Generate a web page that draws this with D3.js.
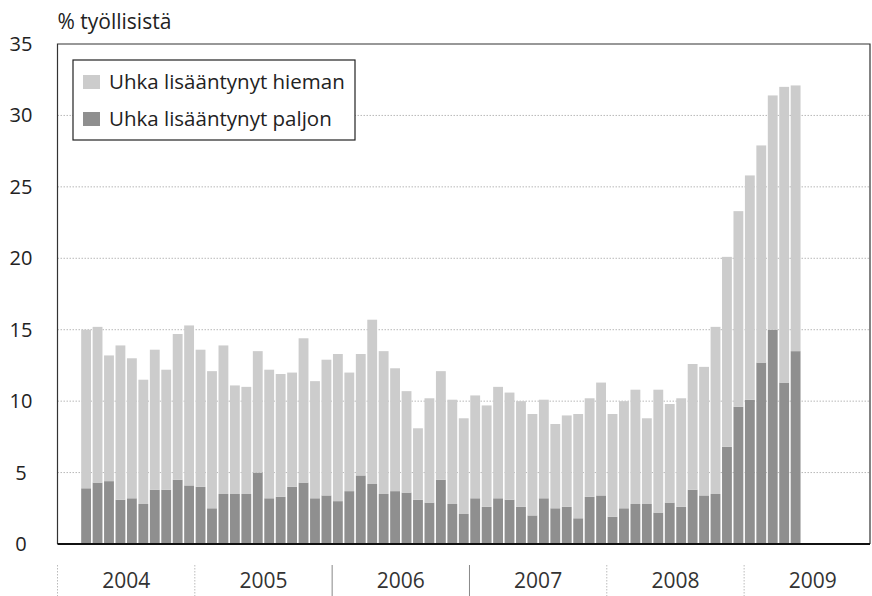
<!DOCTYPE html>
<html>
<head>
<meta charset="utf-8">
<script src="https://d3js.org/d3.v7.min.js"></script>
<style>
  body { margin: 0; background: #fff; }
  svg { font-family: "Open Sans", "Liberation Sans", sans-serif; }
</style>
</head>
<body>
<div id="chart"></div>
<script>
// Months with data: March 2004 - May 2009 (one bar per month)
var firstMonth = new Date(2004, 2, 1);
var years = ["2004", "2005", "2006", "2007", "2008", "2009"];
var yTicks = [0, 5, 10, 15, 20, 25, 30, 35];

// % of employed, stacked: "paljon" at the bottom, "hieman" on top
var paljon = [3.9, 4.3, 4.4, 3.1, 3.2, 2.8, 3.8, 3.8, 4.5, 4.1,
              4.0, 2.5, 3.5, 3.5, 3.5, 5.0, 3.2, 3.3, 4.0, 4.3, 3.2, 3.4,
              3.0, 3.7, 4.8, 4.2, 3.5, 3.7, 3.6, 3.1, 2.9, 4.5, 2.8, 2.1,
              3.2, 2.6, 3.2, 3.1, 2.6, 2.0, 3.2, 2.5, 2.6, 1.8, 3.3, 3.4,
              1.9, 2.5, 2.8, 2.8, 2.2, 2.9, 2.6, 3.8, 3.4, 3.5, 6.8, 9.6,
              10.1, 12.7, 15.0, 11.3, 13.5];
var hieman = [11.1, 10.9, 8.8, 10.8, 9.8, 8.7, 9.8, 8.4, 10.2, 11.2,
              9.6, 9.6, 10.4, 7.6, 7.5, 8.5, 9.0, 8.6, 8.0, 10.1, 8.2, 9.5,
              10.3, 8.3, 8.5, 11.5, 10.0, 8.6, 7.1, 5.0, 7.3, 7.6, 7.3, 6.7,
              7.2, 7.1, 7.8, 7.5, 7.4, 7.1, 6.9, 5.9, 6.4, 7.3, 6.9, 7.9,
              7.2, 7.5, 8.0, 6.0, 8.6, 6.9, 7.6, 8.8, 9.0, 11.7, 13.3, 13.7,
              15.7, 15.2, 16.4, 20.7, 18.6];

var seriesNames = ["Uhka lisääntynyt paljon", "Uhka lisääntynyt hieman"];
var colors = { paljon: "#8f8f8f", hieman: "#cccccc" };

var width = 872, height = 596;
var plotLeft = 57.5, plotRight = 870, plotTop = 44, plotBottom = 544;

var svg = d3.select("#chart").append("svg")
    .attr("width", width)
    .attr("height", height);

// x axis slots: Jan 2004 ... Nov 2009, bars only where data exists
var slots = d3.timeMonth.range(new Date(2004, 0, 1), new Date(2009, 11, 1));
var x = d3.scaleBand()
    .domain(slots.map(function(d) { return +d; }))
    .range([plotLeft, plotRight])
    .paddingInner(0.14)
    .paddingOuter(0.07);

var y = d3.scaleLinear().domain([0, 35]).range([plotBottom, plotTop]);

var table = paljon.map(function(v, i) {
  return { month: +d3.timeMonth.offset(firstMonth, i), paljon: v, hieman: hieman[i] };
});
var stack = d3.stack().keys(["paljon", "hieman"])(table);

// gridlines
svg.append("g").selectAll("line")
  .data(yTicks.filter(function(t) { return t > 0 && t < 35; }))
  .join("line")
    .attr("x1", plotLeft).attr("x2", plotRight)
    .attr("y1", function(d) { return y(d); })
    .attr("y2", function(d) { return y(d); })
    .attr("stroke", "#b8b8b8")
    .attr("stroke-dasharray", "1.5,1.5");

// bars
svg.append("g").selectAll("g")
  .data(stack)
  .join("g")
    .attr("fill", function(s) { return colors[s.key]; })
  .selectAll("rect")
  .data(function(s) { return s; })
  .join("rect")
    .attr("x", function(d) { return x(d.data.month); })
    .attr("width", x.bandwidth())
    .attr("y", function(d) { return y(d[1]); })
    .attr("height", function(d) { return y(d[0]) - y(d[1]); });

// frame
svg.append("path")
    .attr("d", "M" + plotLeft + "," + plotBottom + "V" + y(35) + "H" + plotRight + "V" + plotBottom)
    .attr("fill", "none")
    .attr("stroke", "#333")
    .attr("stroke-width", 1.2);
svg.append("line")
    .attr("x1", plotLeft).attr("x2", plotRight)
    .attr("y1", y(0)).attr("y2", y(0))
    .attr("stroke", "#111")
    .attr("stroke-width", 2);

// y axis labels
svg.append("g").selectAll("text")
  .data(yTicks)
  .join("text")
    .attr("x", 21)
    .attr("y", function(d) { return y(d); })
    .attr("dy", "0.35em")
    .attr("text-anchor", "middle")
    .attr("font-size", 20)
    .attr("fill", "#222")
    .text(function(d) { return d; });

svg.append("text")
    .attr("x", plotLeft)
    .attr("y", 29)
    .attr("font-size", 21)
    .attr("fill", "#222")
    .text("% työllisistä");

// year separators and labels
var yearStart = function(yr) { return x(+new Date(+yr, 0, 1)) - x.step() * x.paddingOuter(); };
var yearG = svg.append("g").selectAll("g")
  .data(years)
  .join("g");
yearG.append("line")
    .attr("x1", function(d) { return yearStart(d); })
    .attr("x2", function(d) { return yearStart(d); })
    .attr("y1", 565).attr("y2", 596)
    .attr("stroke", function(d) { return (d === "2006" || d === "2007") ? "#888" : "#bbb"; })
    .attr("stroke-dasharray", function(d) { return (d === "2006" || d === "2007") ? null : "1.5,1.5"; });
yearG.append("text")
    .attr("x", function(d) { return yearStart(d) + x.step() * 6; })
    .attr("y", 581)
    .attr("dy", "0.35em")
    .attr("text-anchor", "middle")
    .attr("font-size", 21)
    .attr("fill", "#333")
    .text(function(d) { return d; });

// legend
var legend = svg.append("g").attr("transform", "translate(73,60)");
legend.append("rect")
    .attr("width", 282).attr("height", 80)
    .attr("fill", "#fff")
    .attr("stroke", "#222")
    .attr("stroke-width", 1.2);
var items = legend.selectAll("g")
  .data([{ key: "hieman", name: seriesNames[1] }, { key: "paljon", name: seriesNames[0] }])
  .join("g")
    .attr("transform", function(d, i) { return "translate(10," + (22 + i * 37) + ")"; });
items.append("rect")
    .attr("y", -7).attr("width", 17).attr("height", 14)
    .attr("fill", function(d) { return colors[d.key]; });
items.append("text")
    .attr("x", 26)
    .attr("dy", "0.35em")
    .attr("font-size", 20.5)
    .attr("fill", "#222")
    .text(function(d) { return d.name; });
</script>
</body>
</html>
